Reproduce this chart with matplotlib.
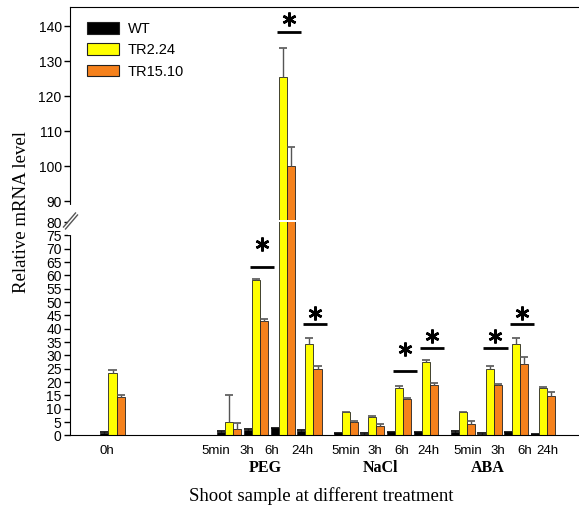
import matplotlib
matplotlib.use("Agg")
import matplotlib.pyplot as plt
from matplotlib.lines import Line2D
from matplotlib.patches import Patch

# ---- data -------------------------------------------------------------
conditions = ["0h", "5min", "3h", "6h", "24h", "5min", "3h", "6h", "24h",
              "5min", "3h", "6h", "24h"]
treatments = ["PEG", "NaCl", "ABA"]
series_names = ["WT", "TR2.24", "TR15.10"]

wt = [1.0, 1.4, 2.0, 2.6, 1.8, 0.8, 0.7, 1.2, 1.2, 1.4, 0.7, 1.2, 0.4]
wt_err = [0.2, 0.3, 0.3, 0.3, 0.3, 0.2, 0.2, 0.2, 0.2, 0.2, 0.1, 0.2, 0.1]
tr224 = [23.5, 4.9, 58.2, 125.4, 34.1, 8.6, 6.8, 17.6, 27.4, 8.6, 24.9, 34.1, 17.9]
tr224_err = [1.1, 10.2, 0.4, 8.4, 2.6, 0.3, 0.3, 1.0, 1.0, 0.3, 1.2, 2.3, 0.3]
tr1510 = [14.5, 2.4, 42.8, 100.2, 24.9, 4.9, 3.6, 13.6, 19.0, 4.3, 18.8, 26.7, 14.8]
tr1510_err = [0.6, 2.1, 0.7, 5.3, 1.2, 0.4, 0.5, 0.4, 0.5, 1.0, 0.3, 2.8, 1.3]

# significance brackets: condition index, bar height, star height
sig_index = [2, 3, 4, 7, 8, 10, 11]
sig_line = [63.3, 138.3, 41.6, 24.1, 32.8, 32.8, 41.6]
sig_star = [71.9, 142.0, 45.8, 32.3, 37.2, 37.2, 45.8]

# ---- layout -----------------------------------------------------------
group_start = [4.35, 8.7, 13.07]
xpos = [0.0] + [s + i for s in group_start for i in range(4)]
tick_shift = [-0.2, -0.5, -0.35, -0.4, -0.25, 0.0, 0.1, 0.1, 0.1,
              0.2, 0.3, 0.3, 0.15]
group_shift = [-0.15, -0.2, -0.57]
bw = 0.30
cap = 0.15
colors = ["#000000", "#FFFF00", "#F5811C"]

W, H = 579, 511
fig = plt.figure(figsize=(W / 100, H / 100), dpi=100)

def px_axes(x0, y_top, x1, y_bot):
    return fig.add_axes([x0 / W, 1 - y_bot / H, (x1 - x0) / W, (y_bot - y_top) / H])

ax_hi = px_axes(70, 7.5, 582, 220)
ax_lo = px_axes(70, 222, 582, 435.4)

sans = "Liberation Sans"
serif = "Liberation Serif"

for ax in (ax_hi, ax_lo):
    for k, (vals, errs) in enumerate([(wt, wt_err), (tr224, tr224_err), (tr1510, tr1510_err)]):
        xs = [x + (k - 1) * bw for x in xpos]
        ax.bar(xs, vals, width=bw, color=colors[k], edgecolor="#222222",
               linewidth=0.6, zorder=2)
        tops = [v + e for v, e in zip(vals, errs)]
        ecol = "#555555" if k else "#000000"
        # one-sided (upper) error bars
        ax.vlines(xs, vals, tops, color=ecol, lw=1.0, zorder=3)
        ax.hlines(tops, [x - cap for x in xs], [x + cap for x in xs],
                  color=ecol, lw=1.2, zorder=3)
    for i, yl, ys in zip(sig_index, sig_line, sig_star):
        cx = xpos[i] + 0.22
        ax.plot([cx - 0.45, cx + 0.45], [yl, yl], color="black", lw=2,
                solid_capstyle="butt", zorder=4)
        ax.plot([cx], [ys], marker=(6, 2, 0), ms=10, mew=1.8, color="black",
                zorder=4, linestyle="none")
    ax.set_xlim(-1.586, 17.52)
    ax.spines["right"].set_visible(False)
    ax.tick_params(axis="x", length=0)
    ax.tick_params(axis="y", direction="out", length=4, width=1,
                   labelsize=10, pad=2)

ax_hi.set_ylim(84.7, 145.3)
ax_hi.set_yticks(range(90, 141, 10))
ax_hi.spines["bottom"].set_visible(False)
ax_hi.set_xticks([])

ax_lo.set_ylim(0, 80)
ax_lo.set_yticks(range(0, 81, 5))
ax_lo.spines["top"].set_visible(False)
ax_lo.set_xticks([x + s for x, s in zip(xpos, tick_shift)])
ax_lo.set_xticklabels(conditions, fontfamily=sans, fontsize=9.5)
ax_lo.tick_params(axis="x", pad=7)

for ax in (ax_hi, ax_lo):
    for lab in ax.get_yticklabels():
        lab.set_fontfamily(sans)
        lab.set_fontsize(10)

# treatment names under the time labels
for g, (name, sh) in enumerate(zip(treatments, group_shift)):
    cx = sum(xpos[1 + 4 * g: 5 + 4 * g]) / 4 + sh
    ax_lo.text(cx, -0.155, name, transform=ax_lo.get_xaxis_transform(),
               ha="center", va="center", fontfamily=serif, fontweight="bold",
               fontsize=11.5)

fig.text(321 / W, 1 - 496 / H, "Shoot sample at different treatment",
         ha="center", va="center", fontfamily=serif, fontsize=13.5)
fig.text(22 / W, 1 - 212 / H, "Relative mRNA level", rotation=90,
         ha="center", va="center", fontfamily=serif, fontsize=13.5)

# axis break marks on the left spine
def fig_line(xs, ys, **kw):
    fig.add_artist(Line2D([x / W for x in xs], [1 - y / H for y in ys], **kw))

fig_line([70, 70], [207, 233], color="white", lw=3)
fig_line([63.5, 75.5], [227, 213], color="#555555", lw=1)
fig_line([65.5, 77.5], [229, 215], color="#555555", lw=1)

handles = [Patch(facecolor=c, edgecolor="#222222", linewidth=0.8) for c in colors]
leg = ax_hi.legend(handles, series_names, loc="upper left",
                   bbox_to_anchor=(87 / W, 1 - 22 / H),
                   bbox_transform=fig.transFigure, frameon=False,
                   borderpad=0, borderaxespad=0, handlelength=2.2,
                   handleheight=0.85, handletextpad=0.6, labelspacing=0.5,
                   prop={"family": sans, "size": 10.5})

fig.savefig("out.png", dpi=100)
